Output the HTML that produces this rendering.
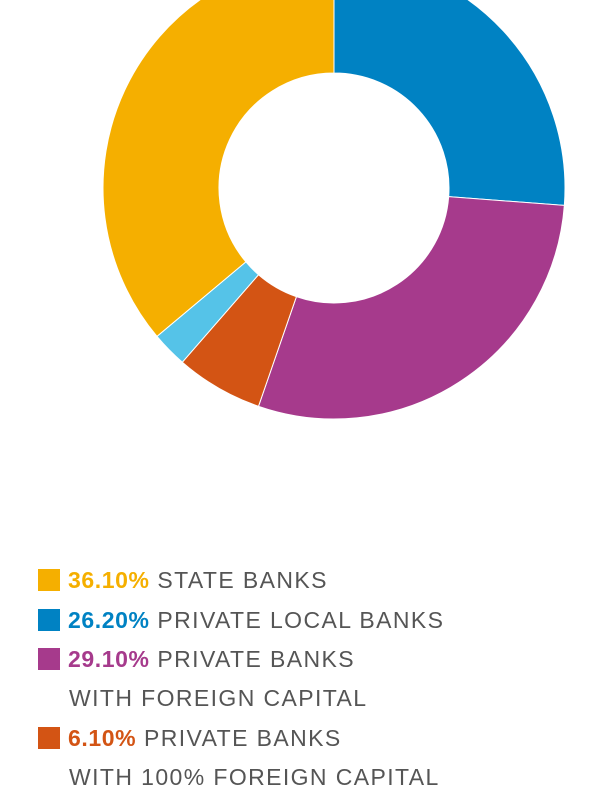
<!DOCTYPE html>
<html>
<head>
<meta charset="utf-8">
<style>
  html,body{margin:0;padding:0;background:#fff;}
  body{width:600px;height:778px;overflow:hidden;position:relative;font-family:"Liberation Sans",sans-serif;}
  svg{position:absolute;left:0;top:0;}
  .leg{position:absolute;left:38px;font-size:23px;letter-spacing:1.4px;color:#555;white-space:nowrap;line-height:26px;}
  .sw{display:inline-block;width:22px;height:22px;vertical-align:-3px;margin-right:8px;}
  .pct{font-weight:bold;letter-spacing:0.6px;}
</style>
</head>
<body>
<svg id="chart" width="600" height="778"></svg>

<div class="leg" style="top:567px"><span class="sw" style="background:#F5AF00"></span><span class="pct" style="color:#F5AF00">36.10%</span> STATE BANKS</div>
<div class="leg" style="top:607px"><span class="sw" style="background:#0082C3"></span><span class="pct" style="color:#0082C3">26.20%</span> PRIVATE LOCAL BANKS</div>
<div class="leg" style="top:646px"><span class="sw" style="background:#A63A8C"></span><span class="pct" style="color:#A63A8C">29.10%</span> PRIVATE BANKS</div>
<div class="leg" style="top:685px;left:69px">WITH FOREIGN CAPITAL</div>
<div class="leg" style="top:725px"><span class="sw" style="background:#D35414"></span><span class="pct" style="color:#D35414">6.10%</span> PRIVATE BANKS</div>
<div class="leg" style="top:764px;left:69px">WITH 100% FOREIGN CAPITAL</div>

<script>
const categories = ["Private local banks","Private banks with foreign capital","Private banks with 100% foreign capital","Other","State banks"];
const values = [26.2, 29.1, 6.1, 2.5, 36.1];
const colors = ["#0082C3","#A63A8C","#D35414","#55C3E8","#F5AF00"];

const cx = 334, cy = 188, R = 231, r = 115;
const svg = document.getElementById('chart');
const total = values.reduce((a,b)=>a+b,0);
function angle(v){ return v/total*2*Math.PI - Math.PI/2; }
function pt(rad,a){ return [cx+rad*Math.cos(a), cy+rad*Math.sin(a)]; }
let acc = 0;
values.forEach((v,i)=>{
  const a0 = angle(acc), a1 = angle(acc+v);
  acc += v;
  const large = (a1-a0) > Math.PI ? 1 : 0;
  const p0=pt(R,a0), p1=pt(R,a1), q1=pt(r,a1), q0=pt(r,a0);
  const d = `M${p0[0]},${p0[1]} A${R},${R} 0 ${large} 1 ${p1[0]},${p1[1]} L${q1[0]},${q1[1]} A${r},${r} 0 ${large} 0 ${q0[0]},${q0[1]} Z`;
  const path = document.createElementNS('http://www.w3.org/2000/svg','path');
  path.setAttribute('d', d);
  path.setAttribute('fill', colors[i]);
  path.setAttribute('stroke', '#fff');
  path.setAttribute('stroke-width', '1');
  
  
  svg.appendChild(path);
});
</script>
</body>
</html>
